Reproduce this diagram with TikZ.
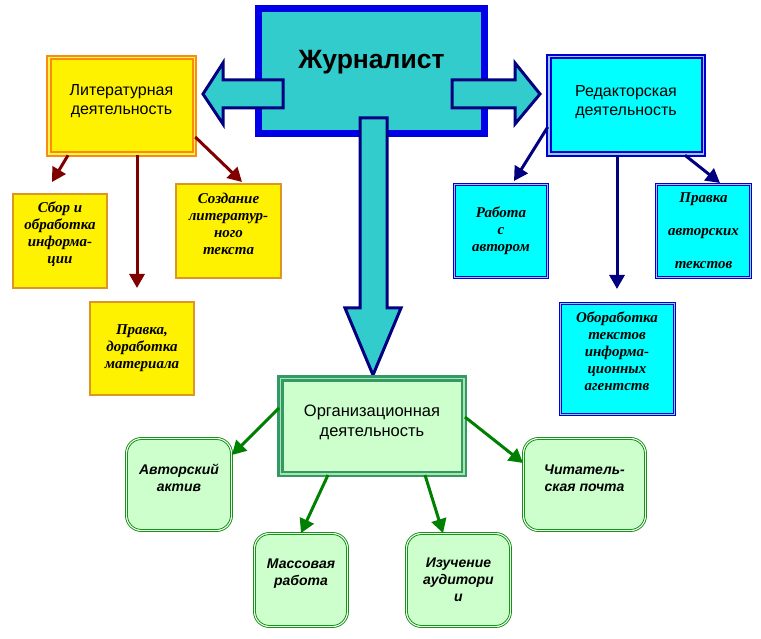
\documentclass[tikz,border=0pt]{standalone}
\usepackage{fontspec}
\setmainfont{Liberation Serif}
\setsansfont{Liberation Sans}
\usepackage{tikz}
\usetikzlibrary{arrows.meta, positioning}

\definecolor{tealfill}{RGB}{51,204,204}
\definecolor{jourblue}{RGB}{0,0,230}
\definecolor{navy}{RGB}{0,0,128}
\definecolor{litorange}{RGB}{250,140,20}
\definecolor{ybord}{RGB}{220,150,40}
\definecolor{redblue}{RGB}{0,0,204}
\definecolor{paleblue}{RGB}{150,200,255}
\definecolor{cyanfill}{RGB}{0,255,255}
\definecolor{orggreen}{RGB}{51,153,102}
\definecolor{palegreen}{RGB}{204,255,204}
\definecolor{lightgreen}{RGB}{170,230,170}
\definecolor{darkred}{RGB}{128,0,0}
\definecolor{darkgreen}{RGB}{0,128,0}

\begin{document}
\begin{tikzpicture}[
                x=1pt, y=-1pt,
                every node/.style={align=center, inner sep=0pt},
                mainbox/.style={draw=jourblue, line width=7pt, fill=tealfill, minimum width=226pt, minimum height=125pt,
                  font=\sffamily\bfseries\fontsize{26.5}{30}\selectfont, text depth=24pt},
                litbox/.style={draw=litorange, double=yellow!70!white, double distance=1.5pt, line width=2pt, fill=yellow,
                  font=\sffamily\fontsize{16}{18.5}\selectfont},
                redbox/.style={draw=redblue, double=paleblue, double distance=1.5pt, line width=2pt, fill=cyanfill,
                  font=\sffamily\fontsize{16}{19}\selectfont},
                ybox/.style={draw=ybord, line width=2pt, fill=yellow, font=\rmfamily\bfseries\itshape\fontsize{15}{17}\selectfont},
                cbox/.style={draw=redblue, double=paleblue, double distance=1pt, line width=1pt, fill=cyanfill,
                  font=\rmfamily\bfseries\itshape\fontsize{15}{17}\selectfont},
                orgbox/.style={draw=orggreen, double=lightgreen, double distance=1.5pt, line width=2.5pt, fill=palegreen,
                  font=\sffamily\fontsize{16.5}{20.5}\selectfont},
                gbox/.style={draw=darkgreen, double=palegreen!50!white, double distance=1.2pt, line width=0.8pt, fill=palegreen,
                  rounded corners=15pt, font=\sffamily\bfseries\itshape\fontsize{14}{17}\selectfont},
                blockarr/.style={draw=navy, fill=tealfill, line width=3pt, line join=miter},
                redarrow/.style={draw=darkred, line width=3pt, -{Triangle[length=14pt, width=15pt]}},
                bluearrow/.style={draw=navy, line width=3pt, -{Triangle[length=14pt, width=15pt]}},
                greenarrow/.style={draw=darkgreen, line width=3pt, -{Triangle[length=14pt, width=15pt]}}]
            \fill[white] (0,0) rectangle (761,639);
            \useasboundingbox (0,0) rectangle (761,639);

            % Journalist
            \node[mainbox] (jour) at (371.5,71) {Журналист};

            % block arrows out of the main box
            \draw[blockarr] (283,80) -- (223,80) -- (223,63) -- (203,94) -- (223,124) -- (223,108) -- (283,108) -- cycle;
            \draw[blockarr] (452,80) -- (515,80) -- (515,63) -- (540,94) -- (515,124) -- (515,108) -- (452,108) -- cycle;
            \draw[blockarr] (360,118) -- (387,118) -- (387,308) -- (401,308) -- (373,375) -- (345,308) -- (360,308) -- cycle;

            % three kinds of activity
            \node[litbox, minimum width=145.5pt, minimum height=96.5pt, text depth=13pt] (lit) at (121.5,106) {Литературная\\деятельность};
            \node[redbox, minimum width=154.5pt, minimum height=97.5pt, text depth=10pt] (red) at (626,105.5) {Редакторская\\деятельность};
            \node[orgbox, minimum width=183.5pt, minimum height=95.5pt, text depth=11pt] (org) at (372,426) {Организационная\\деятельность};

            % literary
            \node[ybox, minimum width=94pt, minimum height=94pt, text depth=17pt] (sbor) at (60,241) {Сбор и\\обработка\\информа-\\ции};
            \node[ybox, minimum width=105pt, minimum height=94pt, text depth=14pt] (sozd) at (228.5,231) {Создание\\литератур-\\ного\\текста};
            \node[ybox, minimum width=104pt, minimum height=93pt] (pravka) at (142,348.5) {Правка,\\доработка\\материала};

            % editorial
            \node[cbox, minimum width=93pt, minimum height=93pt] (rabota) at (501,231) {Работа\\с\\автором};
            \node[cbox, minimum width=94pt, minimum height=93pt] (pravavt) at (703.5,231) {Правка\\[16pt]авторских\\[16pt]текстов};
            \node[cbox, minimum width=114pt, minimum height=111pt, text depth=16pt] (obor) at (617,359) {Обоработка\\текстов\\информа-\\ционных\\агентств};

            % organisational
            \node[gbox, minimum width=105pt, minimum height=92pt, text depth=13pt] (avt) at (179,484.5) {Авторский\\актив};
            \node[gbox, minimum width=93pt, minimum height=93pt, text depth=15pt] (mass) at (301,580) {Массовая\\работа};
            \node[gbox, minimum width=104pt, minimum height=93pt] (izuch) at (458.5,580) {Изучение\\аудитори\\и};
            \node[gbox, minimum width=122pt, minimum height=92pt, text depth=13pt] (chit) at (584.5,484.5) {Читатель-\\ская почта};

            % connectors
            \draw[redarrow] ([xshift=-53.5pt]lit.south) -- ([xshift=-8pt,yshift=11pt]sbor.north);
            \draw[redarrow] ([xshift=15.5pt]lit.south) -- ([xshift=-5pt,yshift=13pt]pravka.north);
            \draw[redarrow] ([yshift=-31pt]lit.east) -- ([xshift=13.5pt,yshift=1pt]sozd.north);

            \draw[bluearrow] ([yshift=-21.5pt]red.west) -- ([xshift=13pt,yshift=3pt]rabota.north);
            \draw[bluearrow] ([xshift=-9pt]red.south) -- ([yshift=14pt]obor.north);
            \draw[bluearrow] ([xshift=59pt]red.south) -- ([xshift=16.5pt,yshift=1pt]pravavt.north);

            \draw[greenarrow] ([yshift=18pt]org.west) -- ([yshift=29.5pt]avt.east);
            \draw[greenarrow] ([xshift=-44pt]org.south) -- (mass.north);
            \draw[greenarrow] ([xshift=53pt]org.south) -- ([xshift=-15.5pt]izuch.north);
            \draw[greenarrow] ([yshift=9pt]org.east) -- ([yshift=21.5pt]chit.west);

        \end{tikzpicture}
\end{document}
